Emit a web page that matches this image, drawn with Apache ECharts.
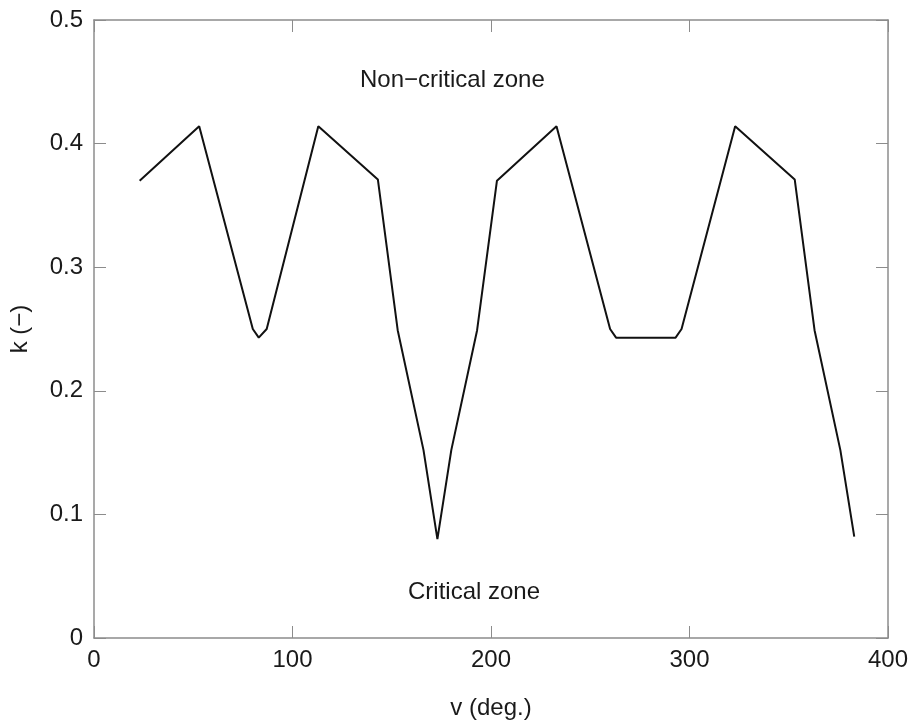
<!DOCTYPE html>
<html>
<head>
<meta charset="utf-8">
<script src="https://cdn.jsdelivr.net/npm/echarts@6/dist/echarts.min.js"></script>
<style>
html, body { margin: 0; padding: 0; background: #fff; }
#main { width: 920px; height: 725px; }
</style>
</head>
<body>
<div id="main"></div>
<script>
// angle v (deg.) and coefficient k (-)
var vDeg = [23, 53, 80, 83, 87, 113, 143, 153, 166, 173, 180, 193, 203, 233, 260, 263, 293, 296, 323, 353, 363, 376, 383];
var kVal = [0.370, 0.414, 0.250, 0.243, 0.250, 0.414, 0.371, 0.249, 0.152, 0.080, 0.152, 0.249, 0.370, 0.414, 0.250, 0.243, 0.243, 0.250, 0.414, 0.371, 0.249, 0.152, 0.082];
var zoneLabels = ['Non\u2212critical zone', 'Critical zone'];

var FONT = '"Liberation Sans", Arial, sans-serif';
var axisGrey = '#8c8c8c';

var chart = echarts.init(document.getElementById('main'));

var points = vDeg.map(function (v, i) { return [v, kVal[i]]; });

function boxAxis(extra) {
    var base = {
        axisLine: { show: true, onZero: false, lineStyle: { color: axisGrey, width: 1.5 } },
        axisTick: { show: true, inside: true, length: 12, lineStyle: { color: axisGrey, width: 1 } },
        splitLine: { show: false },
        axisLabel: { show: false }
    };
    return Object.assign(base, extra);
}

var option = {
    backgroundColor: '#fff',
    animation: false,
    grid: { left: 93, right: 32, top: 20, bottom: 77, containLabel: false },
    xAxis: [
        boxAxis({
            type: 'value', min: 0, max: 400, interval: 100, position: 'bottom',
            name: 'v (deg.)', nameLocation: 'middle', nameGap: 58,
            nameTextStyle: { fontFamily: FONT, fontSize: 24, color: '#1a1a1a' },
            axisLabel: { show: true, margin: 10, fontFamily: FONT, fontSize: 24, color: '#1a1a1a' }
        }),
        boxAxis({ type: 'value', min: 0, max: 400, interval: 100, position: 'top' })
    ],
    yAxis: [
        boxAxis({
            type: 'value', min: 0, max: 0.5, interval: 0.1, position: 'left',
            name: 'k (\u2212)', nameLocation: 'middle', nameGap: 62,
            nameTextStyle: { fontFamily: FONT, fontSize: 24, color: '#1a1a1a' },
            axisLabel: { show: true, margin: 11, fontFamily: FONT, fontSize: 24, color: '#1a1a1a' }
        }),
        boxAxis({ type: 'value', min: 0, max: 0.5, interval: 0.1, position: 'right' })
    ],
    series: [{
        type: 'line',
        data: points,
        showSymbol: false,
        lineStyle: { color: '#111', width: 2 },
        silent: true
    }],
    graphic: [
        {
            type: 'text', left: 360, top: 68,
            style: { text: zoneLabels[0], fontFamily: FONT, fontSize: 24, fill: '#1a1a1a' }
        },
        {
            type: 'text', left: 408, top: 580,
            style: { text: zoneLabels[1], fontFamily: FONT, fontSize: 24, fill: '#1a1a1a' }
        }
    ]
};

chart.setOption(option);
</script>
</body>
</html>
